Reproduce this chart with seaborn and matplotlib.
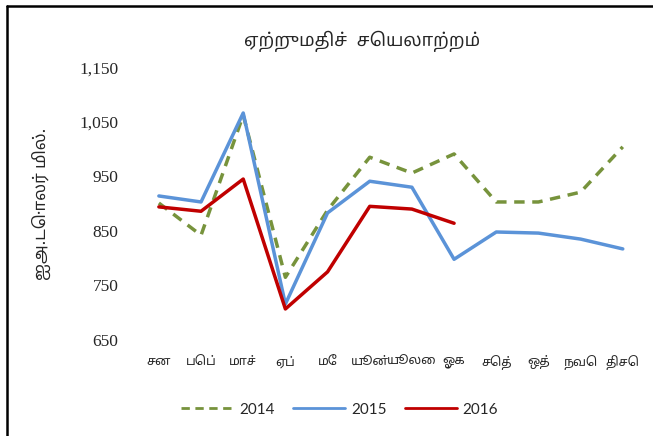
import pandas as pd
import matplotlib.pyplot as plt
import matplotlib.lines as mlines
import seaborn as sns

months = ['சன', 'பெப்', 'மாச்', 'ஏப்', 'மே', 'யூன்', 'யூலை', 'ஓக', 'செத்', 'ஒத்', 'நவெ', 'திசெ']
exports_2014 = [901, 842, 1062, 765, 888, 985, 956, 991, 903, 903, 921, 1004]
exports_2015 = [914, 903, 1066, 716, 883, 941, 930, 798, 848, 846, 835, 817]
exports_2016 = [894, 886, 945, 707, 775, 895, 890, 864]
yticks = [650, 750, 850, 950, 1050, 1150]

rows = []
for year, vals in [('2014', exports_2014), ('2015', exports_2015), ('2016', exports_2016)]:
    for m, v in zip(months, vals):
        rows.append({'month': m, 'value': v, 'year': year})
df = pd.DataFrame(rows)

sns.set_style('white')
plt.rcParams['font.family'] = ['Noto Sans Tamil', 'Noto Sans', 'DejaVu Sans']

fig = plt.figure(figsize=(6.53, 4.36), dpi=100)
ax = fig.add_axes([0.211, 0.22, 0.775, 0.626])

palette = {'2014': '#77933C', '2015': '#5B93D8', '2016': '#C00000'}
sns.lineplot(data=df, x='month', y='value', hue='year', style='year',
             palette=palette, dashes={'2014': (3, 2.2), '2015': '', '2016': ''},
             linewidth=2.5, ax=ax, legend=False, sort=False)

ax.set_xlim(-0.5, 11.5)
ax.set_ylim(650, 1150)
ax.set_yticks(yticks)
ax.set_yticklabels([f'{v:,}' for v in yticks], family='Liberation Serif', fontsize=12.5)
ax.set_xticks(range(12))
ax.set_xticklabels(months, fontsize=9)
ax.tick_params(axis='y', length=0, pad=14)
ax.tick_params(axis='x', length=0, pad=11)
ax.set_xlabel('')
ax.set_ylabel('ஐஅ.டொலர் மில்.', fontsize=12, labelpad=20)
for s in ax.spines.values():
    s.set_visible(False)

fig.text(0.555, 0.905, 'ஏற்றுமதிச்  செயலாற்றம்', ha='center', va='center',
         fontsize=13, fontweight='bold')

handles = [mlines.Line2D([], [], color=palette[y], lw=2, linestyle=ls)
           for y, ls in [('2014', (0, (3, 2))), ('2015', '-'), ('2016', '-')]]
fig.legend(handles, ['2014', '2015', '2016'], loc='center', bbox_to_anchor=(0.52, 0.06),
           ncol=3, frameon=False, prop={'family': 'Lato', 'size': 11},
           handlelength=3.4, handletextpad=0.4, columnspacing=1.2)

# chart border (top and left visible)
fig.add_artist(mlines.Line2D([0.011, 1.0], [0.986, 0.986], color='black', lw=1.8))
fig.add_artist(mlines.Line2D([0.011, 0.011], [0.0, 0.986], color='black', lw=1.8))

fig.savefig('out.png', dpi=100)
